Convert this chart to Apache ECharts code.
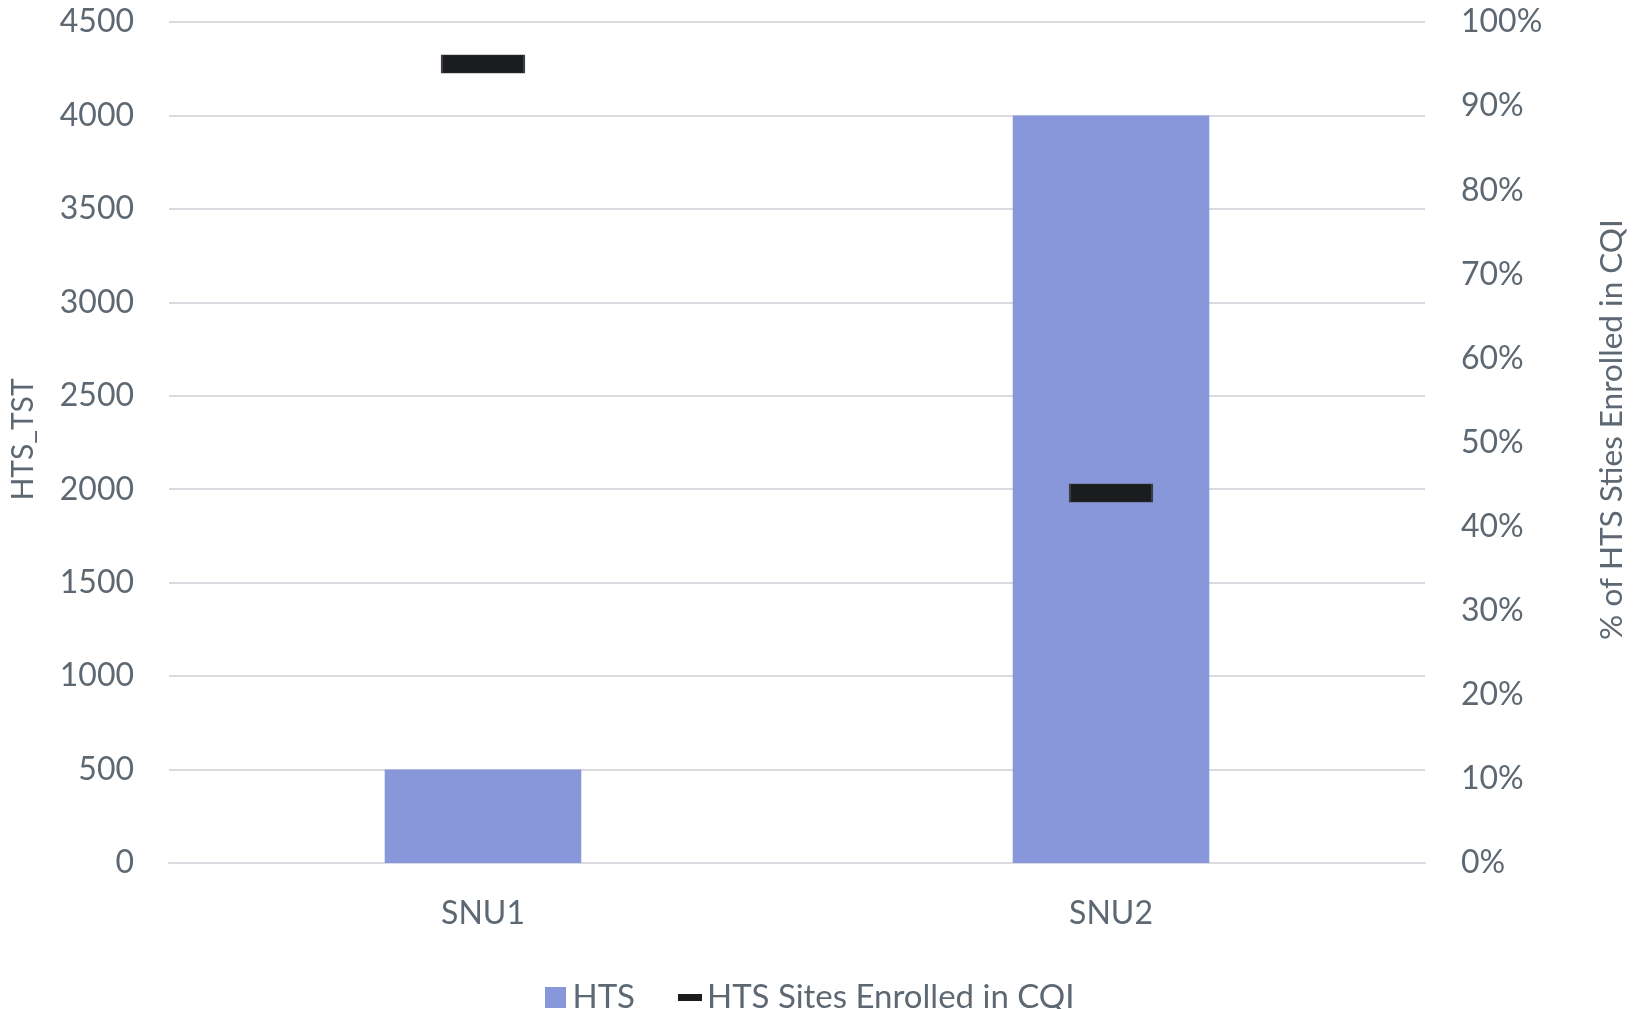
<!DOCTYPE html>
<html>
<head>
<meta charset="utf-8">
<script src="https://cdn.jsdelivr.net/npm/echarts@6/dist/echarts.min.js"></script>
<style>
html,body{margin:0;padding:0;background:#fff;}
#chart{width:1639px;height:1009px;}
</style>
</head>
<body>
<div id="chart"></div>
<script>
const categories = ['SNU1', 'SNU2'];
const htsValues = [500, 4000];
const cqiPercent = [0.95, 0.44];
const leftTicks = {min: 0, max: 4500, interval: 500};
const rightTicks = {min: 0, max: 1, interval: 0.1};

const FONT = 'Lato';
const TXT = '#5d6873';
const GRID = '#d9dbe0';

const chart = echarts.init(document.getElementById('chart'));
chart.setOption({
  animation: false,
  textStyle: {fontFamily: FONT},
  grid: {left: 167, right: 214, top: 22, bottom: 146, containLabel: false},
  legend: {
    left: 545, top: 981, padding: 0,
    itemWidth: 24, itemHeight: 21, itemGap: 43,
    textStyle: {fontFamily: FONT, fontSize: 33, color: TXT},
    data: [
      {name: 'HTS', icon: 'path://M0,0H21V21H0Z'},
      {name: 'HTS Sites Enrolled in CQI', icon: 'path://M0,0H24V7H0Z', itemStyle: {color: '#1b1c1e', borderWidth: 0}}
    ]
  },
  xAxis: {
    type: 'category',
    data: categories,
    axisLine: {show: true, lineStyle: {color: GRID, width: 2}},
    axisTick: {show: false},
    axisLabel: {fontFamily: FONT, fontSize: 32, color: TXT, margin: 35}
  },
  yAxis: [
    {
      type: 'value', min: leftTicks.min, max: leftTicks.max, interval: leftTicks.interval,
      name: 'HTS_TST', nameLocation: 'middle', nameRotate: 90, nameGap: 131,
      nameTextStyle: {fontFamily: FONT, fontSize: 30, color: TXT, padding: [0, 0, 0, 6]},
      axisLine: {show: false}, axisTick: {show: false},
      axisLabel: {fontFamily: FONT, fontSize: 32, color: TXT, margin: 35, formatter: v => String(v)},
      splitLine: {show: true, lineStyle: {color: GRID, width: 2}}
    },
    {
      type: 'value', min: rightTicks.min, max: rightTicks.max, interval: rightTicks.interval,
      name: '% of HTS Sties Enrolled in CQI', nameLocation: 'middle', nameRotate: 90, nameGap: 171,
      nameTextStyle: {fontFamily: FONT, fontSize: 31.5, color: TXT, padding: [0, 0, 0, 26]},
      axisLine: {show: false}, axisTick: {show: false},
      axisLabel: {fontFamily: FONT, fontSize: 32, color: TXT, margin: 36, formatter: v => Math.round(v * 100) + '%'},
      splitLine: {show: false}
    }
  ],
  series: [
    {
      name: 'HTS', type: 'bar', data: htsValues, yAxisIndex: 0,
      barWidth: '31.3%',
      itemStyle: {color: '#8797d9'}
    },
    {
      name: 'HTS Sites Enrolled in CQI', type: 'scatter', data: cqiPercent, yAxisIndex: 1,
      symbol: 'rect', symbolSize: [82, 18],
      itemStyle: {color: '#1b1c1e', borderColor: '#3a3d45', borderWidth: 1, opacity: 1},
      z: 5
    }
  ]
});
</script>
</body>
</html>
